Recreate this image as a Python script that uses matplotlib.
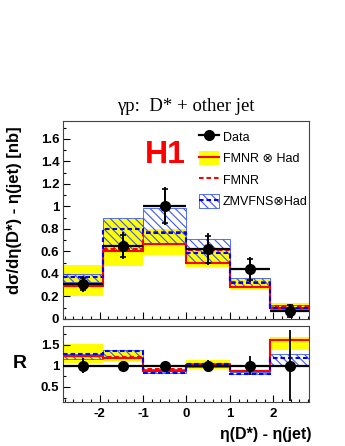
import numpy as np
import matplotlib
matplotlib.use("Agg")
import matplotlib.pyplot as plt
from matplotlib.lines import Line2D
from matplotlib.patches import Patch
from matplotlib.ticker import MultipleLocator

plt.rcParams['font.family'] = ['Liberation Sans', 'DejaVu Sans']
plt.rcParams['axes.unicode_minus'] = False
plt.rcParams['hatch.linewidth'] = 0.8

# bins in eta(D*) - eta(jet)
edges = np.array([-2.83, -1.92, -1.0, 0.0, 1.0, 1.92, 2.83])

# data, cross section [nb]
data = np.array([0.31, 0.65, 1.005, 0.62, 0.44, 0.07])
err_tot = np.array([0.07, 0.12, 0.17, 0.14, 0.11, 0.065])
err_stat = np.array([0.05, 0.10, 0.15, 0.12, 0.09, 0.05])

# FMNR x Had (central + band), FMNR, ZMVFNS x Had (central + band)
fmnr_had = np.array([0.296, 0.60, 0.665, 0.495, 0.287, 0.095])
fmnr_had_lo = np.array([0.204, 0.47, 0.57, 0.465, 0.26, 0.086])
fmnr_had_hi = np.array([0.48, 0.895, 0.80, 0.62, 0.367, 0.139])
fmnr = np.array([0.31, 0.62, 0.775, 0.615, 0.33, 0.118])
zmvfns = np.array([0.37, 0.797, 0.767, 0.584, 0.323, 0.10])
zmvfns_lo = np.array([0.33, 0.60, 0.67, 0.50, 0.28, 0.09])
zmvfns_hi = np.array([0.40, 0.90, 0.99, 0.71, 0.367, 0.125])

# ratio panel
r_data = np.array([1.0, 1.0, 1.0, 1.0, 1.0, 1.0])
r_err = np.array([0.18, 0.12, 0.05, 0.13, 0.22, 0.84])
r_fmnr_had = np.array([1.23, 1.19, 0.88, 1.03, 0.88, 1.62])
r_fmnr_had_lo = np.array([1.06, 1.08, 0.85, 0.92, 0.85, 1.37])
r_fmnr_had_hi = np.array([1.52, 1.38, 0.90, 1.13, 0.90, 1.68])
r_fmnr = np.array([1.22, 1.20, 0.92, 1.05, 0.87, 1.62])
r_zmvfns = np.array([1.27, 1.36, 0.82, 1.04, 0.80, 1.19])
r_zmvfns_lo = np.array([1.15, 1.21, 0.82, 0.98, 0.80, 1.02])
r_zmvfns_hi = np.array([1.28, 1.37, 0.93, 1.06, 0.86, 1.29])

centers = 0.5 * (edges[1:] + edges[:-1])
widths = np.diff(edges)

YELLOW = '#ffff00'
RED = '#ff0000'
BLUE = '#0000ff'
HATCH = '#3a58ff'
dash = (0, (2.2, 1.4))

fig = plt.figure(figsize=(3.45, 4.46), dpi=100)
ax1 = fig.add_axes([0.184, 0.2848, 0.713, 0.4439])
ax2 = fig.add_axes([0.184, 0.0987, 0.713, 0.1704])


def draw_panel(ax, d, e_tot, e_stat, c1, lo1, hi1, c2, c3, lo3, hi3):
    ax.bar(centers, hi1 - lo1, bottom=lo1, width=widths, color=YELLOW,
           linewidth=0, zorder=1)
    ax.bar(centers, hi3 - lo3, bottom=lo3, width=widths, fill=False,
           hatch='\\\\\\\\', edgecolor=HATCH, linewidth=0.6, zorder=2)
    ax.stairs(c1, edges, baseline=None, color=RED, linewidth=1.5, zorder=3)
    ax.stairs(c2, edges, baseline=None, color=RED, linewidth=1.5,
              linestyle=dash, zorder=4)
    ax.stairs(c3, edges, baseline=None, color=BLUE, linewidth=1.5,
              linestyle=dash, zorder=4)
    ax.errorbar(centers, d, xerr=widths / 2, yerr=e_tot, fmt='o', color='k',
                markersize=7, elinewidth=1.3, capsize=0, zorder=6)
    if e_stat is not None:
        ax.errorbar(centers, d, yerr=e_stat, fmt='none', ecolor='k',
                    elinewidth=1.3, capsize=2.5, capthick=1.2, zorder=6)
    ax.hlines(d, edges[:-1], edges[1:], color='k', linewidth=1.6, zorder=5)


draw_panel(ax1, data, err_tot, err_stat, fmnr_had, fmnr_had_lo, fmnr_had_hi,
           fmnr, zmvfns, zmvfns_lo, zmvfns_hi)
draw_panel(ax2, r_data, r_err, None, r_fmnr_had, r_fmnr_had_lo, r_fmnr_had_hi,
           r_fmnr, r_zmvfns, r_zmvfns_lo, r_zmvfns_hi)

for ax in (ax1, ax2):
    ax.set_xlim(edges[0], edges[-1])
    ax.xaxis.set_major_locator(MultipleLocator(1))
    ax.xaxis.set_minor_locator(MultipleLocator(0.2))
    ax.tick_params(which='both', direction='in', top=False, right=False,
                   labelsize=9.5, width=0.8)
    ax.tick_params(which='major', length=5)
    ax.tick_params(which='minor', length=2.5)
    for sp in ax.spines.values():
        sp.set_linewidth(0.8)
        sp.set_color('#444444')

ax1.set_ylim(0, 1.76)
ax1.set_yticks(np.arange(0, 1.61, 0.2))
ax1.set_yticklabels(['0', '0.2', '0.4', '0.6', '0.8', '1', '1.2', '1.4', '1.6'],
                    fontweight='bold')
ax1.yaxis.set_minor_locator(MultipleLocator(0.1))
ax1.tick_params(axis='x', labelbottom=False)
ax1.tick_params(axis='y', pad=3)

ax2.set_ylim(0.145, 1.94)
ax2.set_yticks([0.5, 1.0, 1.5])
ax2.set_yticklabels(['0.5', '1', '1.5'], fontweight='bold')
ax2.yaxis.set_minor_locator(MultipleLocator(0.25))
ax2.set_xticks([-2, -1, 0, 1, 2])
ax2.set_xticklabels(['-2', '-1', '0', '1', '2'], fontweight='bold')
ax2.tick_params(axis='x', pad=4.5)
ax2.tick_params(axis='y', pad=3)

fig.text(0.539, 0.762, 'γp:  D* + other jet', family='Liberation Serif',
         fontsize=13.5, ha='center', va='center')
fig.text(0.043, 0.529, 'dσ/dη(D*) - η(jet) [nb]', rotation=90, fontsize=12,
         fontweight='bold', ha='center', va='center')
fig.text(0.057, 0.184, 'R', fontsize=14, fontweight='bold',
         ha='center', va='center')
ax2.text(1.01, -0.43, 'η(D*) - η(jet)', transform=ax2.transAxes,
         fontsize=11.5, fontweight='bold', ha='right', va='center')
ax1.text(0.413, 0.83, 'H1', transform=ax1.transAxes, color=RED,
         fontsize=23, fontweight='bold', ha='center', va='center')

handles = [
    Line2D([], [], color='k', marker='o', markersize=7, linewidth=1.6),
    (Patch(facecolor=YELLOW, linewidth=0),
     Line2D([], [], color=RED, linewidth=1.5)),
    Line2D([], [], color=RED, linewidth=1.5, linestyle=dash),
    (Patch(facecolor='white', hatch='\\\\\\\\', edgecolor=HATCH, linewidth=0.6),
     Line2D([], [], color=BLUE, linewidth=1.5, linestyle=dash)),
]
labels = ['Data', 'FMNR ⊗ Had', 'FMNR', 'ZMVFNS⊗Had']
ax1.legend(handles, labels, loc='upper left', bbox_to_anchor=(0.55, 0.955),
           frameon=False, fontsize=9, handlelength=1.6, handleheight=1.3,
           handletextpad=0.3, labelspacing=0.6, borderpad=0, borderaxespad=0)

fig.savefig('out.png', dpi=100)
